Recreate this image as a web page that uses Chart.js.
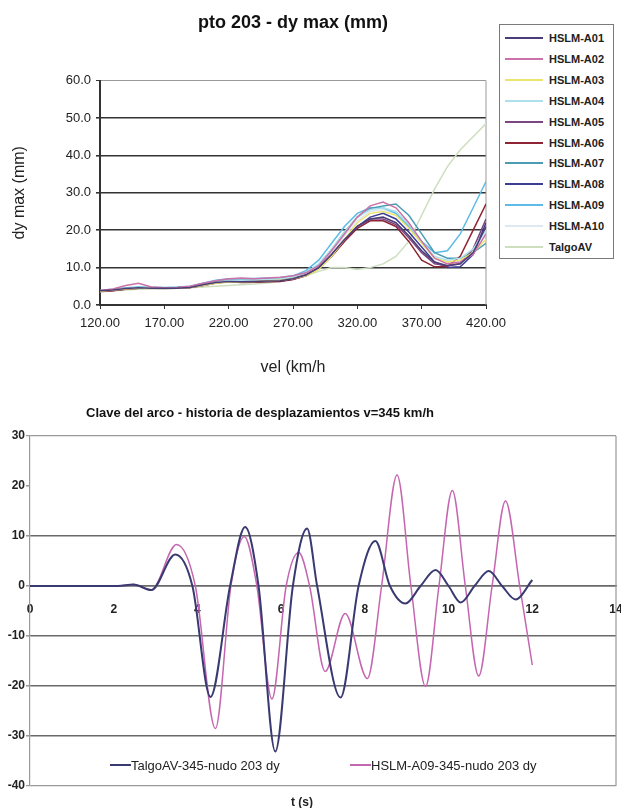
<!DOCTYPE html>
<html>
<head>
<meta charset="utf-8">
<script src="https://cdn.jsdelivr.net/npm/chart.js@4.4.0/dist/chart.umd.min.js"></script>
<style>
  body { margin: 0; background: #fff; font-family: "Liberation Sans", Arial, sans-serif; }
  #page { position: relative; width: 621px; height: 808px; overflow: hidden; }
  #boxTop { position: absolute; left: 0; top: 0; width: 621px; height: 385px; }
  #boxBottom { position: absolute; left: 0; top: 390px; width: 621px; height: 418px; }
  #legendTop {
    position: absolute; left: 499px; top: 24px; width: 115px; height: 235px;
    border: 1.5px solid #7a7a7a; box-sizing: border-box; padding-top: 3px; background: #fff;
  }
  #legendTop .row { display: flex; align-items: center; height: 20.85px; }
  #legendTop .swatch { width: 38px; height: 2px; margin-left: 5px; }
  #legendTop .lbl { margin-left: 6px; font-size: 11px; font-weight: bold; color: #222; }
  #titleBottom {
    position: absolute; left: 0; top: 405px; width: 520px; text-align: center;
    font-size: 13px; font-weight: bold; color: #111; line-height: 16px;
  }
  #ejeBottom {
    position: absolute; left: 252px; top: 795px; width: 100px; text-align: center;
    font-size: 12px; font-weight: bold; color: #222; line-height: 14px;
  }
  .legendBottom { position: absolute; top: 757px; height: 16px; display: flex; align-items: center; }
  .legendBottom .swatch { width: 21px; height: 2px; }
  .legendBottom .lbl { font-size: 13px; color: #222; }
</style>
</head>
<body>
<div id="page">
  <div id="boxTop"><canvas id="chartTop"></canvas></div>
  <div id="legendTop"></div>
  <div id="boxBottom"><canvas id="chartBottom"></canvas></div>
  <div id="titleBottom">Clave del arco - historia de desplazamientos v=345 km/h</div>
  <div id="ejeBottom">t (s)</div>
  <div id="legendBottom"></div>
</div>
<script>
/* =========================
   DATOS - pto 203
========================= */

const vel = [120,130,140,150,160,170,180,190,200,210,220,230,240,250,260,270,280,290,300,310,320,330,340,350,360,370,380,390,400,410,420];

const a01 = [3.8,4.0,4.4,4.6,4.5,4.5,4.5,4.7,5.4,6.0,6.3,6.2,6.3,6.4,6.5,7.0,8.0,10.0,13.5,17.5,21.0,23.0,23.5,22.0,18.5,14.5,11.5,10.5,11.0,14.0,21.0];
const a02 = [3.9,4.3,5.2,5.8,4.8,4.6,4.7,5.0,5.8,6.5,7.0,7.2,7.0,7.2,7.4,7.8,8.6,10.5,14.5,19.0,23.5,26.5,27.5,26.0,22.0,17.0,12.5,11.0,11.5,13.5,19.0];
const a03 = [3.7,4.0,4.3,4.5,4.5,4.4,4.5,4.7,5.2,5.8,6.1,6.2,6.3,6.5,6.6,7.0,7.8,9.5,13.0,17.5,22.0,24.5,25.0,24.0,20.5,16.5,12.5,11.5,12.0,14.0,17.5];
const a04 = [3.8,4.1,4.5,4.7,4.6,4.6,4.6,4.9,5.5,6.1,6.5,6.6,6.7,6.8,7.0,7.5,8.7,11.0,15.0,19.5,23.5,25.5,26.0,25.0,21.5,17.0,13.0,12.0,12.5,15.0,20.0];
const a05 = [3.8,4.0,4.4,4.6,4.6,4.5,4.6,4.8,5.4,6.0,6.3,6.4,6.3,6.5,6.6,7.1,8.1,10.0,13.5,17.5,21.0,23.0,23.0,21.5,18.0,14.0,11.0,10.5,11.0,15.0,23.0];
const a06 = [3.6,3.8,4.2,4.5,4.6,4.5,4.5,4.7,5.2,5.9,6.2,6.0,6.1,6.2,6.3,6.8,7.8,9.8,13.0,17.0,20.5,22.5,22.5,21.0,17.0,12.0,10.2,10.3,13.0,20.0,27.0];
const a07 = [3.8,4.1,4.5,4.7,4.7,4.6,4.7,4.9,5.6,6.3,6.6,6.7,6.8,6.9,7.1,7.6,8.7,10.8,14.8,19.5,23.5,25.8,26.5,27.0,24.0,19.0,14.0,12.5,12.5,14.0,16.5];
const a08 = [3.7,3.9,4.3,4.5,4.5,4.4,4.5,4.7,5.2,5.9,6.2,6.1,6.2,6.3,6.4,6.9,7.9,9.8,13.2,17.2,21.0,23.5,24.5,23.0,19.5,15.5,11.5,10.0,10.2,13.5,22.0];
const a09 = [3.9,4.2,4.6,4.8,4.7,4.7,4.8,5.0,5.8,6.6,7.0,7.0,7.1,7.2,7.3,7.8,9.2,12.0,16.5,21.0,24.5,26.0,26.0,24.5,21.0,17.0,14.0,14.5,19.0,26.0,33.0];
const a10 = [3.8,4.0,4.4,4.6,4.6,4.6,4.6,4.8,5.4,6.0,6.4,6.5,6.6,6.7,6.9,7.3,8.3,10.3,14.0,18.5,22.5,25.0,25.5,24.5,21.0,16.5,12.5,11.5,12.0,14.5,19.0];
const talgo = [3.5,3.8,4.0,4.2,4.3,4.4,4.5,4.6,4.8,5.0,5.2,5.4,5.6,5.9,6.3,7.0,7.8,9.0,10.0,10.0,9.5,10.0,11.0,13.0,17.0,24.0,31.0,37.0,41.5,45.0,48.5];

const nombresTop = ["HSLM-A01","HSLM-A02","HSLM-A03","HSLM-A04","HSLM-A05","HSLM-A06","HSLM-A07","HSLM-A08","HSLM-A09","HSLM-A10","TalgoAV"];
const coloresTop = ["#4b3e78","#cc72a8","#ece470","#ade0ec","#7c4680","#8e2434","#4c9cb4","#3c3c94","#5cbce6","#dde8f0","#cddfbe"];
const seriesTop = [a01,a02,a03,a04,a05,a06,a07,a08,a09,a10,talgo];

/* =========================
   DATOS - clave del arco
========================= */

const tTalgo = [0,1.5,2.1,2.47,2.9,3.47,3.88,4.31,4.78,5.14,5.46,5.86,6.28,6.62,6.86,7.42,7.85,8.25,8.6,8.97,9.33,9.69,10.0,10.29,10.62,10.96,11.28,11.6,12.0];
const dyTalgo = [0,0,0,0.3,-0.8,6.3,0,-22.2,0,11.8,0,-33.1,0,11.5,0,-22.3,0,9.0,0,-3.5,0,3.2,0,-3.3,0,3.0,0,-2.7,1.2];

const tHslm = [0,1.5,2.1,2.47,2.9,3.5,3.95,4.43,4.8,5.12,5.42,5.78,6.12,6.42,6.68,7.05,7.53,8.06,8.4,8.77,9.1,9.45,9.77,10.09,10.4,10.72,11.04,11.36,11.7,12.0];
const dyHslm = [0,0,0,0.3,-0.8,8.3,0,-28.5,0,9.9,0,-22.6,0,6.7,0,-17.1,-5.5,-18.5,0,22.2,0,-20.1,0,19.1,0,-18.0,0,17.0,0,-15.8];

const nombresBottom = ["TalgoAV-345-nudo 203 dy", "HSLM-A09-345-nudo 203 dy"];
const coloresBottom = ["#3a3a72", "#c466b0"];

/* =========================
   PLUGIN BORDE DERECHO
========================= */

const bordeDerecho = {
  id: "bordeDerecho",
  beforeDatasetsDraw(chart, args, opts) {
    const { ctx, chartArea } = chart;
    ctx.save();
    ctx.strokeStyle = opts.color || "#999";
    ctx.lineWidth = opts.width || 1;
    ctx.beginPath();
    ctx.moveTo(chartArea.right, chartArea.top);
    ctx.lineTo(chartArea.right, chartArea.bottom);
    ctx.stroke();
    ctx.restore();
  }
};

const fuente = "'Liberation Sans', Arial, sans-serif";

/* =========================
   CHART SUPERIOR
========================= */

const chartTop = new Chart(document.getElementById("chartTop"), {
  type: "line",
  data: {
    datasets: seriesTop.map((serie, i) => ({
      label: nombresTop[i],
      data: serie.map((v, j) => ({ x: vel[j], y: v })),
      borderColor: coloresTop[i],
      backgroundColor: coloresTop[i],
      borderWidth: 1.5,
      pointRadius: 0,
      tension: 0
    }))
  },
  options: {
    responsive: true,
    maintainAspectRatio: false,
    animation: false,
    layout: { padding: { left: 0, right: 135, top: 0, bottom: 0 } },
    plugins: {
      legend: { display: false },
      tooltip: { enabled: false },
      title: {
        display: true,
        text: "pto 203 - dy max (mm)",
        fullSize: false,
        color: "#111",
        font: { family: fuente, size: 18, weight: "bold" },
        padding: { top: 12, bottom: 47 }
      },
      bordeDerecho: { color: "#999", width: 1 }
    },
    scales: {
      x: {
        type: "linear",
        min: 120,
        max: 420,
        afterFit: s => { s.height = 80; },
        ticks: {
          stepSize: 50,
          padding: 7,
          color: "#222",
          font: { family: fuente, size: 13 },
          maxRotation: 0,
          callback: v => v.toFixed(2)
        },
        grid: { display: true, drawOnChartArea: false, drawTicks: true, tickLength: 4, color: "#333" },
        border: { display: true, color: "#333", width: 2 },
        title: {
          display: true,
          text: "vel (km/h",
          color: "#222",
          font: { family: fuente, size: 16 },
          padding: { top: 0, bottom: 8 }
        }
      },
      y: {
        min: 0,
        max: 60,
        afterFit: s => { s.width = 100; },
        ticks: {
          stepSize: 10,
          padding: 5,
          color: "#222",
          font: { family: fuente, size: 13 },
          callback: v => v.toFixed(1)
        },
        grid: {
          color: c => (c.tick && c.tick.value === 60 ? "#999" : "#333"),
          lineWidth: c => (c.tick && c.tick.value === 60 ? 1 : 1.6),
          tickLength: 4,
          tickColor: "#333"
        },
        border: { display: true, color: "#333", width: 2 },
        title: {
          display: true,
          text: "dy max (mm)",
          color: "#222",
          font: { family: fuente, size: 16 },
          padding: { top: 10, bottom: 0 }
        }
      }
    }
  },
  plugins: [bordeDerecho]
});

/* leyenda superior (html) */
const legendTop = document.getElementById("legendTop");
chartTop.data.datasets.forEach(ds => {
  const row = document.createElement("div");
  row.className = "row";
  row.innerHTML = '<span class="swatch" style="background:' + ds.borderColor + '"></span><span class="lbl">' + ds.label + '</span>';
  legendTop.appendChild(row);
});

/* =========================
   CHART INFERIOR
========================= */

const chartBottom = new Chart(document.getElementById("chartBottom"), {
  type: "line",
  data: {
    datasets: [
      {
        label: nombresBottom[0],
        data: tTalgo.map((t, i) => ({ x: t, y: dyTalgo[i] })),
        borderColor: coloresBottom[0],
        borderWidth: 2,
        pointRadius: 0,
        cubicInterpolationMode: "monotone",
        xAxisID: "x",
        yAxisID: "y"
      },
      {
        label: nombresBottom[1],
        data: tHslm.map((t, i) => ({ x: t, y: dyHslm[i] })),
        borderColor: coloresBottom[1],
        borderWidth: 1.5,
        pointRadius: 0,
        cubicInterpolationMode: "monotone",
        xAxisID: "x",
        yAxisID: "y"
      }
    ]
  },
  options: {
    responsive: true,
    maintainAspectRatio: false,
    animation: false,
    layout: { padding: { left: 0, right: 5, top: 46, bottom: 22 } },
    plugins: {
      legend: { display: false },
      tooltip: { enabled: false },
      bordeDerecho: { color: "#999", width: 1.2 }
    },
    scales: {
      x: {
        type: "linear",
        position: { y: 0 },
        min: 0,
        max: 14,
        afterFit: s => { s.paddingLeft = 0; s.paddingRight = 0; },
        ticks: {
          stepSize: 2,
          padding: 8,
          color: "#222",
          font: { family: fuente, size: 12, weight: "bold" },
          maxRotation: 0
        },
        grid: { display: false },
        border: { display: true, color: "#6a6a6a", width: 1.5 }
      },
      y: {
        min: -40,
        max: 30,
        afterFit: s => { s.width = 30; },
        ticks: {
          stepSize: 10,
          padding: 1,
          color: "#222",
          font: { family: fuente, size: 12, weight: "bold" }
        },
        grid: {
          color: c => {
            const v = c.tick ? c.tick.value : null;
            if (v === 20) return "rgba(0,0,0,0)";
            if (v === 30 || v === -40) return "#999";
            return "#6a6a6a";
          },
          lineWidth: c => (c.tick && (c.tick.value === 30 || c.tick.value === -40) ? 1.2 : 1.5),
          tickLength: 4,
          tickColor: "#999"
        },
        border: { display: true, color: "#999", width: 1.2 }
      }
    }
  },
  plugins: [bordeDerecho]
});

/* leyenda inferior (html, dentro del area) */
const legendBottom = document.getElementById("legendBottom");
const posLeyenda = [110, 350];
chartBottom.data.datasets.forEach((ds, i) => {
  const item = document.createElement("div");
  item.className = "legendBottom";
  item.style.left = posLeyenda[i] + "px";
  item.innerHTML = '<span class="swatch" style="background:' + ds.borderColor + '"></span><span class="lbl">' + ds.label + '</span>';
  legendBottom.appendChild(item);
});
</script>
</body>
</html>
